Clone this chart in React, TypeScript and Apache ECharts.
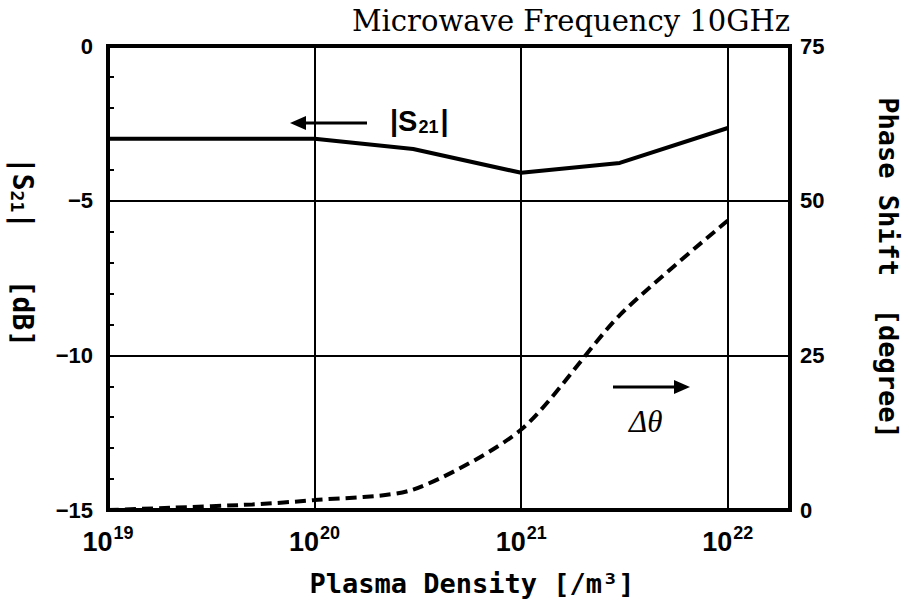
import React, { useEffect, useRef } from "react";
import * as echarts from "echarts";

const densities = [1e19, 1e20, 3e20, 1e21, 3e21, 1e22];
const s21Values = [-3.0, -3.0, -3.33, -4.1, -3.78, -2.65];
const phaseDensities = [1e19, 2e19, 5e19, 1e20, 3e20, 1e21, 3e21, 1e22];
const phaseValues = [0, 0.35, 0.9, 1.6, 3.3, 13.0, 31.5, 46.8];
const xMin = 1e19;
const xMax = 2e22;
const leftMin = -15;
const leftMax = 0;
const rightMin = 0;
const rightMax = 75;

const SANS = "'Liberation Sans', Arial, sans-serif";
const MONO = "'DejaVu Sans Mono', 'Liberation Mono', monospace";

export default function App() {
  const ref = useRef<HTMLDivElement>(null);
  useEffect(() => {
    if (!ref.current) return;
    const chart = echarts.init(ref.current, null, { renderer: "svg" });
    const option: any = {
      animation: false,
      backgroundColor: "#fff",
      grid: {
        left: 108,
        right: 119,
        top: 46,
        bottom: 95,
        show: true,
        borderColor: "#000",
        borderWidth: 4,
      },
      xAxis: {
        type: "log",
        logBase: 10,
        min: xMin,
        max: xMax,
        axisLine: { lineStyle: { color: "#000", width: 4 } },
        axisTick: { show: false },
        splitLine: { show: true, lineStyle: { color: "#000", width: 2 } },
        axisLabel: {
          margin: 14,
          showMaxLabel: false,
          formatter: (v: number) => {
            const e = Math.round(Math.log10(v));
            if (Math.abs(v - Math.pow(10, e)) / v > 1e-6) return "";
            return "{b|10}{s|" + e + "}";
          },
          rich: {
            b: { fontSize: 27, fontWeight: "bold", fontFamily: SANS, color: "#000" },
            s: { fontSize: 18, fontWeight: "bold", fontFamily: SANS, color: "#000", padding: [0, 0, 17, 1] },
          },
        },
      },
      yAxis: [
        {
          type: "value",
          min: leftMin,
          max: leftMax,
          interval: 5,
          axisLine: { show: true, lineStyle: { color: "#000", width: 4 } },
          axisTick: { show: true, inside: true, length: 6, lineStyle: { color: "#000", width: 2 } },
          minorTick: { show: true, splitNumber: 5, length: 6, lineStyle: { color: "#000", width: 2 } },
          splitLine: { show: true, lineStyle: { color: "#000", width: 2 } },
          axisLabel: {
            margin: 15,
            fontSize: 22,
            fontWeight: "bold",
            fontFamily: SANS,
            color: "#000",
            formatter: (v: number) => String(v).replace("-", "\u2212"),
          },
        },
        {
          type: "value",
          min: rightMin,
          max: rightMax,
          interval: 25,
          position: "right",
          axisLine: { show: true, lineStyle: { color: "#000", width: 4 } },
          axisTick: { show: false },
          splitLine: { show: false },
          axisLabel: {
            margin: 10,
            fontSize: 22,
            fontWeight: "bold",
            fontFamily: SANS,
            color: "#000",
          },
        },
      ],
      series: [
        {
          type: "line",
          yAxisIndex: 0,
          data: densities.map((d, i) => [d, s21Values[i]]),
          showSymbol: false,
          lineStyle: { color: "#000", width: 4 },
        },
        {
          type: "line",
          yAxisIndex: 1,
          data: phaseDensities.map((d, i) => [d, phaseValues[i]]),
          showSymbol: false,
          smooth: 0.25,
          lineStyle: { color: "#000", width: 4, type: [11, 6] },
        },
      ],
      graphic: [
        {
          type: "text",
          right: 119,
          top: 6,
          style: {
            text: "Microwave Frequency 10GHz",
            font: "29px 'DejaVu Serif', 'Liberation Serif', serif",
            fill: "#000",
          },
        },
        {
          type: "text",
          x: 22,
          y: 252,
          rotation: -Math.PI / 2,
          style: {
            text: "{m||S}{sub|21}{m||   [dB]}",
            align: "center",
            verticalAlign: "middle",
            rich: {
              m: { fontSize: 28, fontWeight: "bold", fontFamily: MONO, fill: "#000" },
              sub: { fontSize: 18, fontWeight: "bold", fontFamily: MONO, fill: "#000", padding: [10, 0, 0, 0] },
            },
          },
        },
        {
          type: "text",
          x: 888,
          y: 268,
          rotation: -Math.PI / 2,
          style: {
            text: "Phase Shift  [degree]",
            align: "center",
            verticalAlign: "middle",
            font: "bold 27px 'DejaVu Sans Mono', monospace",
            fill: "#000",
          },
        },
        {
          type: "text",
          x: 472,
          y: 583,
          style: {
            text: "Plasma Density [/m\u00b3]",
            align: "center",
            verticalAlign: "middle",
            font: "bold 27px 'DejaVu Sans Mono', monospace",
            fill: "#000",
          },
        },
        {
          type: "line",
          shape: { x1: 300, y1: 123, x2: 367, y2: 123 },
          style: { stroke: "#000", lineWidth: 3 },
        },
        {
          type: "polygon",
          shape: { points: [[290, 123], [306, 116], [306, 130]] },
          style: { fill: "#000" },
        },
        {
          type: "text",
          x: 390,
          y: 121,
          style: {
            text: "{m||S}{sub|21}{m||}",
            verticalAlign: "middle",
            rich: {
              m: { fontSize: 29, fontWeight: "bold", fontFamily: SANS, fill: "#000" },
              sub: { fontSize: 18, fontWeight: "bold", fontFamily: SANS, fill: "#000", padding: [12, 2, 0, 1] },
            },
          },
        },
        {
          type: "line",
          shape: { x1: 613, y1: 387, x2: 676, y2: 387 },
          style: { stroke: "#000", lineWidth: 3 },
        },
        {
          type: "polygon",
          shape: { points: [[690, 387], [674, 380], [674, 394]] },
          style: { fill: "#000" },
        },
        {
          type: "text",
          x: 629,
          y: 421,
          style: {
            text: "\u0394\u03b8",
            verticalAlign: "middle",
            font: "italic 31px 'Liberation Serif', serif",
            fill: "#000",
          },
        },
      ],
    };
    chart.setOption(option);
    return () => chart.dispose();
  }, []);
  return (
    <div
      ref={ref}
      style={{ position: "fixed", left: 0, top: 0, width: 909, height: 605, background: "#fff" }}
    />
  );
}
